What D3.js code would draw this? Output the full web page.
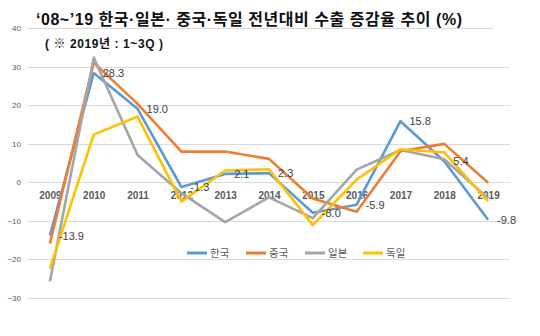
<!DOCTYPE html>
<html><head><meta charset="utf-8">
<script src="https://cdn.jsdelivr.net/npm/d3@7"></script>
<style>
html,body{margin:0;padding:0;background:#fff;}
svg{display:block;font-family:"Liberation Sans","Noto Sans CJK KR",Arial,sans-serif;}
</style></head><body>
<svg id="c" width="540" height="336"></svg>
<script>
const years = ["2009","2010","2011","2012","2013","2014","2015","2016","2017","2018","2019"];
const seriesNames = ["한국","중국","일본","독일"];
const korea   = [-13.9, 28.3, 19.0, -1.3, 2.1, 2.3, -8.0, -5.9, 15.8, 5.4, -9.8];
const china   = [-16.0, 31.0, 20.3, 7.9, 7.9, 6.0, -4.3, -7.7, 8.0, 9.9, -0.2];
const japan   = [-25.8, 32.3, 7.0, -2.9, -10.4, -4.0, -9.4, 3.2, 8.3, 5.9, -4.2];
const germany = [-22.5, 12.3, 17.0, -5.1, 3.0, 3.3, -11.2, 0.6, 8.5, 7.7, -5.0];
const yTicks = [-30, -20, -10, 0, 10, 20, 30, 40];
const colors = ["#5B9BD5", "#ED7D31", "#A5A5A5", "#FFC000"];
const title = "‘08~’19  한국·일본· 중국·독일 전년대비 수출 증감율 추이 (%)";
const subtitle = "( ※ 2019년 : 1~3Q )";

const series = [korea, china, japan, germany];
const svg = d3.select("#c");
const x = d3.scalePoint().domain(years).range([28, 510]).padding(0.5);
const y = d3.scaleLinear().domain([-30, 40]).range([297.5, 28]);

// gridlines
const grid = svg.append("g");
grid.selectAll("line").data(yTicks).join("line")
  .attr("x1", 28).attr("x2", d => d === 40 ? 493 : 510)
  .attr("y1", d => Math.round(y(d)) + 0.5).attr("y2", d => Math.round(y(d)) + 0.5)
  .attr("stroke", "#D9D9D9").attr("stroke-width", 1);

// y axis labels
const yAxis = d3.axisLeft(y).tickValues(yTicks).tickSize(0).tickPadding(0);
const ya = svg.append("g").attr("transform", "translate(21,0)").call(yAxis);
ya.select(".domain").remove();
ya.selectAll("text").attr("fill", "#595959").attr("font-size", 8)
  .attr("font-family", "Liberation Sans, Arial, sans-serif");

// x axis labels (next to axis, below the 0 line)
const xAxis = d3.axisBottom(x).tickSize(0).tickPadding(0);
const xa = svg.append("g").attr("transform", `translate(0,${y(0) + 10})`).call(xAxis);
xa.select(".domain").remove();
xa.selectAll("text").attr("fill", "#595959").attr("font-size", 10).attr("font-weight", "bold")
  .attr("font-family", "Liberation Sans, Arial, sans-serif");

// lines
const line = d3.line().x((d, i) => x(years[i])).y(d => y(d));
series.forEach((s, k) => {
  svg.append("path").datum(s).attr("d", line)
    .attr("fill", "none").attr("stroke", colors[k]).attr("stroke-width", 2.6)
    .attr("stroke-linejoin", "round");
});
// data labels for Korea
svg.append("g").selectAll("text").data(korea).join("text")
  .attr("x", (d, i) => x(years[i]) + 9)
  .attr("y", d => y(d) + 4)
  .attr("font-size", 11).attr("fill", "#404040")
  .attr("font-family", "Liberation Sans, Arial, sans-serif")
  .text(d => d.toFixed(1));

// legend
const legendX = [187, 246, 305, 363];
const lg = svg.append("g");
seriesNames.forEach((n, k) => {
  lg.append("line").attr("x1", legendX[k]).attr("x2", legendX[k] + 20)
    .attr("y1", 253).attr("y2", 253).attr("stroke", colors[k]).attr("stroke-width", 3);
  lg.append("text").attr("x", legendX[k] + 23).attr("y", 257)
    .attr("font-size", 10.5).attr("fill", "#595959")
    .attr("font-family", "Noto Sans CJK KR, sans-serif").text(n);
});

// title
svg.append("text").attr("x", 36).attr("y", 25).attr("font-size", 16).attr("font-weight", "bold")
  .attr("fill", "#111").attr("textLength", 426).attr("lengthAdjust", "spacing").text(title);
svg.append("text").attr("x", 45).attr("y", 48).attr("font-size", 12).attr("font-weight", "bold")
  .attr("fill", "#111").attr("textLength", 118).attr("lengthAdjust", "spacing").text(subtitle);
</script>
</body></html>
